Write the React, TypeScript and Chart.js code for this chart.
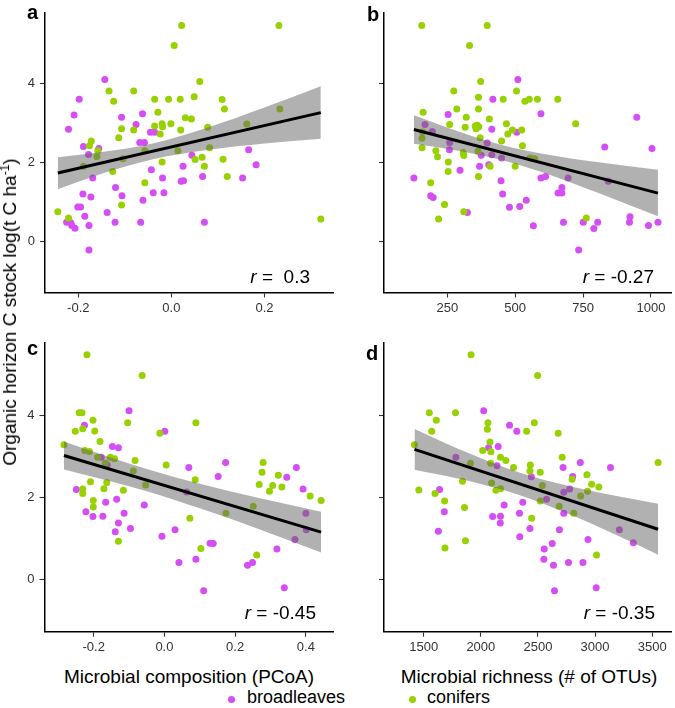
import React, { useEffect, useRef } from 'react';
import { Chart, registerables } from 'chart.js';
Chart.register(...registerables);

const FONT = "'Liberation Sans', Arial, Helvetica, sans-serif";
const PURPLE = '#D54EF3';
const GREEN = '#98D100';
const RIBBON = 'rgba(100,100,100,0.5)';

// ---------- Panel a: Microbial composition (PCoA), top row ----------
const aBroadX = [-0.143, -0.198, -0.209, -0.221, -0.107, -0.062, -0.076, -0.068, -0.058, -0.045, -0.036, -0.189, -0.178, -0.156, -0.169, -0.043, -0.019, 0.025, 0.021, 0.026, 0.044, 0.067, 0.166, 0.182, 0.153, -0.12, -0.106, -0.19, -0.173, -0.039, -0.016, -0.061, -0.201, -0.195, -0.186, -0.138, -0.225, -0.216, -0.214, -0.207, -0.177, -0.121, -0.066, 0.071, -0.177];
const aBroadY = [4.11, 3.61, 3.21, 2.85, 3.15, 3.24, 2.97, 2.51, 2.51, 2.77, 2.77, 2.41, 2.21, 2.36, 1.61, 1.82, 1.61, 1.91, 1.53, 1.54, 2.19, 1.65, 2.33, 1.95, 1.61, 1.37, 1.16, 1.21, 1.13, 1.24, 1.24, 1.05, 0.88, 0.88, 0.64, 0.74, 0.49, 0.48, 0.41, 0.34, 0.41, 0.49, 0.49, 0.49, -0.21];
const aConX = [0.022, 0.231, 0.006, 0.061, -0.134, -0.081, -0.124, -0.036, -0.006, 0.019, 0.049, 0.109, 0.114, 0.233, -0.029, 0.03, 0.043, -0.036, -0.02, -0.019, -0.001, -0.024, -0.107, -0.081, 0.02, 0.078, 0.162, -0.113, -0.172, -0.176, -0.158, 0.082, 0.014, -0.16, -0.104, -0.02, 0.051, 0.066, 0.111, 0.071, -0.126, -0.189, -0.057, 0.12, -0.107, -0.244, -0.221, 0.321, -0.057];
const aConY = [5.48, 5.48, 4.97, 4.06, 3.82, 3.82, 3.56, 3.61, 3.61, 3.61, 3.67, 3.6, 3.36, 3.36, 3.28, 3.14, 3.11, 2.93, 2.99, 2.91, 2.99, 2.73, 2.86, 2.83, 2.83, 2.9, 2.98, 2.63, 2.55, 2.43, 2.3, 2.38, 2.3, 2.16, 2.1, 2.02, 2.08, 2.14, 2.09, 1.91, 1.78, 1.91, 1.49, 1.65, 0.93, 0.76, 0.6, 0.57, 2.3];
const aTicks = [-0.2, 0, 0.2];
const aFitX = [-0.244, 0.321];
const aFitY = [1.74, 3.27];
const aBandX = [-0.244, -0.15, -0.04, 0.08, 0.2, 0.321];
const aBandHi = [2.14, 2.27, 2.49, 2.9, 3.4, 3.94];
const aBandLo = [1.33, 1.72, 2.09, 2.33, 2.49, 2.61];

// ---------- Panel b: Microbial richness, top row ----------
const bBroadX = [510, 418, 253, 595, 948, 414, 506, 168, 195, 259, 258, 397, 375, 414, 450, 369, 403, 297, 127, 448, 454, 595, 612, 658, 672, 672, 189, 198, 541, 479, 517, 324, 567, 695, 830, 1004, 843, 678, 751, 804, 790, 921, 923, 991, 1026, 734];
const bBroadY = [4.11, 3.61, 3.22, 3.24, 3.15, 2.85, 2.77, 2.97, 2.79, 2.51, 2.33, 2.5, 2.19, 2.2, 2.12, 1.91, 1.95, 1.81, 1.61, 1.54, 1.21, 1.61, 1.65, 1.23, 1.23, 1.37, 1.16, 1.12, 1.05, 0.87, 0.89, 0.74, 0.4, 1.61, 2.4, 2.36, 1.53, 0.49, 0.49, 0.49, 0.33, 0.49, 0.63, 0.41, 0.49, -0.21];
const bConX = [156, 397, 332, 373, 274, 365, 456, 536, 552, 582, 657, 505, 285, 365, 161, 320, 259, 316, 353, 356, 366, 360, 405, 468, 490, 524, 473, 450, 371, 527, 723, 157, 208, 214, 309, 311, 254, 253, 408, 500, 365, 189, 240, 311, 218, 762, 159, 157, 363, 572, 555];
const bConY = [5.48, 5.48, 4.97, 4.06, 3.82, 3.66, 3.61, 3.56, 3.61, 3.61, 3.61, 3.82, 3.36, 3.36, 3.28, 3.15, 2.97, 2.9, 2.93, 2.86, 2.91, 2.95, 3.11, 2.99, 2.83, 2.83, 2.73, 2.55, 2.63, 2.43, 2.99, 2.38, 2.3, 2.15, 2.26, 2.18, 2.02, 1.78, 1.91, 1.91, 1.65, 1.49, 0.94, 0.76, 0.57, 0.6, 2.78, 2.62, 2.29, 2.1, 2.12];
const bTicks = [250, 500, 750, 1000];
const bFitX = [127, 1026];
const bFitY = [2.84, 1.23];
const bBandX = [127, 300, 450, 600, 800, 1026];
const bBandHi = [3.2, 2.77, 2.45, 2.23, 2.02, 1.82];
const bBandLo = [2.48, 2.29, 2.07, 1.76, 1.25, 0.64];

// ---------- Panel c: Microbial composition (PCoA), bottom row ----------
const cBroadX = [-0.1, -0.226, 0.001, -0.147, -0.13, -0.179, -0.162, 0.069, 0.173, 0.373, 0.346, 0.152, 0.392, -0.249, -0.135, -0.166, -0.057, -0.222, -0.114, -0.202, -0.174, -0.13, -0.139, -0.096, 0.03, -0.007, 0.129, 0.138, 0.041, 0.089, 0.235, 0.249, 0.318, 0.369, 0.4, 0.401, 0.111, 0.339, 0.063];
const cBroadY = [4.11, 3.76, 3.61, 3.24, 3.21, 2.98, 2.79, 2.73, 2.85, 2.73, 2.49, 2.51, 2.2, 2.19, 1.95, 1.88, 1.81, 1.65, 1.61, 1.53, 1.54, 1.37, 1.16, 1.24, 1.21, 1.05, 0.88, 0.87, 0.41, 0.49, 0.34, 0.41, 0.74, 0.97, 1.61, 1.21, -0.28, -0.21, 2.13];
const cConX = [-0.219, -0.063, -0.241, -0.233, -0.202, -0.231, -0.252, -0.197, -0.104, 0.089, -0.013, -0.182, -0.284, -0.225, -0.212, -0.153, -0.141, -0.083, -0.189, 0.005, -0.167, -0.088, 0.087, -0.209, -0.163, -0.171, -0.231, -0.231, -0.116, -0.053, -0.201, -0.201, 0.072, 0.174, 0.251, 0.103, -0.13, 0.261, 0.279, 0.276, 0.268, 0.306, 0.322, 0.297, 0.332, 0.412, 0.443];
const cConY = [5.48, 4.97, 4.06, 4.06, 3.88, 3.67, 3.61, 3.62, 3.82, 3.82, 3.56, 3.36, 3.28, 3.14, 3.12, 2.98, 2.94, 2.9, 2.98, 2.79, 2.83, 2.64, 2.43, 2.38, 2.36, 2.21, 2.2, 2.09, 2.17, 2.3, 1.92, 1.76, 1.49, 1.61, 1.78, 0.75, 0.93, 0.59, 2.85, 2.61, 2.31, 2.29, 2.54, 2.15, 2.25, 2.03, 1.92];
const cTicks = [-0.2, 0, 0.2, 0.4];
const cFitX = [-0.284, 0.443];
const cFitY = [3.02, 1.15];
const cBandX = [-0.284, -0.15, -0.05, 0.1, 0.27, 0.443];
const cBandHi = [3.36, 2.965, 2.69, 2.33, 1.975, 1.65];
const cBandLo = [2.68, 2.385, 2.15, 1.73, 1.215, 0.65];

// ---------- Panel d: Microbial richness (# of OTUs), bottom row ----------
const dBroadX = [2025, 2251, 2315, 2068, 2152, 2141, 1781, 2720, 2871, 3135, 2442, 2804, 2778, 2726, 2575, 1639, 1680, 1628, 2103, 2172, 2170, 2204, 2338, 2367, 2341, 2430, 2726, 2688, 2555, 2625, 2552, 2636, 2767, 2894, 2938, 2645, 3010, 3213, 3335];
const dBroadY = [4.11, 3.76, 3.61, 3.21, 3.24, 2.77, 2.98, 2.73, 2.85, 2.73, 2.5, 2.51, 2.2, 2.12, 1.95, 2.19, 1.65, 1.17, 1.53, 1.54, 1.37, 1.81, 1.61, 1.88, 1.04, 1.24, 1.61, 1.21, 0.74, 0.87, 0.49, 0.34, 0.41, 0.41, 0.97, -0.28, -0.21, 1.21, 0.89];
const dConX = [1914, 2497, 1549, 1778, 1610, 1570, 2062, 2057, 2468, 2401, 2677, 1419, 2080, 2016, 2088, 2172, 2219, 2086, 2286, 2433, 2430, 2520, 2712, 3552, 2929, 2970, 3033, 2799, 2935, 2874, 1839, 1457, 1599, 1683, 1857, 2445, 1865, 1686, 3013, 2132, 2172, 2094, 2813, 2686, 2520, 1909, 2538];
const dConY = [5.48, 4.97, 4.06, 4.06, 3.88, 3.61, 3.82, 3.66, 3.82, 3.61, 3.56, 3.28, 3.35, 3.14, 3.11, 2.98, 2.9, 2.83, 2.73, 2.79, 2.64, 2.61, 2.98, 2.85, 2.55, 2.32, 2.25, 2.44, 2.15, 2.03, 2.39, 2.18, 2.09, 1.91, 1.75, 1.49, 0.94, 0.76, 0.59, 2.17, 2.21, 2.35, 1.61, 1.78, 1.91, 2.83, 2.29];
const dTicks = [1500, 2000, 2500, 3000, 3500];
const dFitX = [1419, 3552];
const dFitY = [3.17, 1.22];
const dBandX = [1419, 1800, 2330, 2800, 3200, 3552];
const dBandHi = [3.665, 3.185, 2.61, 2.255, 2.025, 1.84];
const dBandLo = [2.675, 2.46, 2.065, 1.56, 1.06, 0.6];

const yTicks = [0, 2, 4];
const rLabels = ['0.3', '-0.27', '-0.45', '-0.35'];
const panelLetters = ['a', 'b', 'c', 'd'];

type PanelCfg = {
  left: number; top: number; w: number; h: number;
  padTop: number; padRight: number; yW: number; xH: number;
  xMin: number; xMax: number; yMin: number; yMax: number;
  xTicks: number[]; decimals: number; yLabels: boolean;
  bx: number[]; by: number[]; cx: number[]; cy: number[];
  fx: number[]; fy: number[]; bandX: number[]; bandHi: number[]; bandLo: number[];
};

const panels: PanelCfg[] = [
  { left: 0, top: 0, w: 340, h: 330, padTop: 1, padRight: 7, yW: 45, xH: 37.5, xMin: -0.2715, xMax: 0.3472, yMin: -1.29, yMax: 5.8, xTicks: aTicks, decimals: 1, yLabels: true, bx: aBroadX, by: aBroadY, cx: aConX, cy: aConY, fx: aFitX, fy: aFitY, bandX: aBandX, bandHi: aBandHi, bandLo: aBandLo },
  { left: 340, top: 0, w: 335, h: 330, padTop: 1, padRight: 2, yW: 44, xH: 37.5, xMin: 17, xMax: 1074, yMin: -1.29, yMax: 5.8, xTicks: bTicks, decimals: 0, yLabels: false, bx: bBroadX, by: bBroadY, cx: bConX, cy: bConY, fx: bFitX, fy: bFitY, bandX: bBandX, bandHi: bBandHi, bandLo: bBandLo },
  { left: 0, top: 330, w: 340, h: 330, padTop: 11.7, padRight: 7, yW: 44.5, xH: 28.3, xMin: -0.339, xMax: 0.4766, yMin: -1.28, yMax: 5.77, xTicks: cTicks, decimals: 1, yLabels: true, bx: cBroadX, by: cBroadY, cx: cConX, cy: cConY, fx: cFitX, fy: cFitY, bandX: cBandX, bandHi: cBandHi, bandLo: cBandLo },
  { left: 340, top: 330, w: 335, h: 330, padTop: 11.7, padRight: 2, yW: 44, xH: 28.3, xMin: 1152, xMax: 3665, yMin: -1.28, yMax: 5.77, xTicks: dTicks, decimals: 0, yLabels: false, bx: dBroadX, by: dBroadY, cx: dConX, cy: dConY, fx: dFitX, fy: dFitY, bandX: dBandX, bandHi: dBandHi, bandLo: dBandLo },
];

const pts = (xs: number[], ys: number[]) => xs.map((x, i) => ({ x, y: ys[i] }));

function Panel({ cfg }: { cfg: PanelCfg }) {
  const ref = useRef<HTMLCanvasElement | null>(null);
  useEffect(() => {
    if (!ref.current) return;
    const chart = new Chart(ref.current, {
      type: 'scatter',
      data: {
        datasets: [
          { data: pts(cfg.fx, cfg.fy), showLine: true, borderColor: '#000', borderWidth: 3, pointRadius: 0, order: 1, fill: false } as any,
          { data: pts(cfg.bandX, cfg.bandHi), showLine: true, cubicInterpolationMode: 'monotone', borderWidth: 0, borderColor: 'rgba(0,0,0,0)', pointRadius: 0, backgroundColor: RIBBON, fill: '+1', order: 2 } as any,
          { data: pts(cfg.bandX, cfg.bandLo), showLine: true, cubicInterpolationMode: 'monotone', borderWidth: 0, borderColor: 'rgba(0,0,0,0)', pointRadius: 0, fill: false, order: 2 } as any,
          { data: pts(cfg.cx, cfg.cy), backgroundColor: GREEN, pointBackgroundColor: GREEN, pointBorderWidth: 0, pointRadius: 3.5, order: 3 } as any,
          { data: pts(cfg.bx, cfg.by), backgroundColor: PURPLE, pointBackgroundColor: PURPLE, pointBorderWidth: 0, pointRadius: 3.5, order: 4 } as any,
        ],
      },
      options: {
        animation: false,
        responsive: false,
        devicePixelRatio: 1,
        events: [],
        layout: { padding: { left: 0, top: cfg.padTop, right: cfg.padRight, bottom: 0 } },
        plugins: { legend: { display: false }, tooltip: { enabled: false } },
        scales: {
          x: {
            type: 'linear', min: cfg.xMin, max: cfg.xMax,
            afterBuildTicks: (s: any) => { s.ticks = cfg.xTicks.map((v) => ({ value: v })); },
            afterFit: (s: any) => { s.height = cfg.xH; },
            grid: { drawOnChartArea: false, drawTicks: true, tickLength: 5, tickColor: '#333', tickWidth: 1.1 },
            border: { display: true, color: '#000', width: 1.5 },
            ticks: { color: '#333', font: { family: FONT, size: 13 }, padding: 3, maxRotation: 0, autoSkip: false, callback: (v: any) => Number(v).toFixed(cfg.decimals) },
          },
          y: {
            type: 'linear', min: cfg.yMin, max: cfg.yMax,
            afterBuildTicks: (s: any) => { s.ticks = yTicks.map((v) => ({ value: v })); },
            afterFit: (s: any) => { s.width = cfg.yW; },
            grid: { drawOnChartArea: false, drawTicks: true, tickLength: 5, tickColor: '#333', tickWidth: 1.1 },
            border: { display: true, color: '#000', width: 1.5 },
            ticks: { color: '#333', font: { family: FONT, size: 13 }, padding: 5, callback: (v: any) => (cfg.yLabels ? String(v) : '') },
          },
        },
      } as any,
    });
    return () => chart.destroy();
  }, [cfg]);
  return (
    <canvas ref={ref} width={cfg.w} height={cfg.h}
      style={{ position: 'absolute', left: cfg.left, top: cfg.top, width: cfg.w, height: cfg.h }} />
  );
}

function TextAt({ x, y, size, align, bold, children }: { x: number; y: number; size: number; align: 'left' | 'center' | 'right'; bold?: boolean; children: React.ReactNode }) {
  const tx = align === 'center' ? 'translateX(-50%)' : align === 'right' ? 'translateX(-100%)' : 'none';
  return (
    <div style={{ position: 'absolute', left: x, top: y - 0.8465 * size, fontSize: size, lineHeight: `${size}px`, fontWeight: bold ? 700 : 400, whiteSpace: 'pre', transform: tx, color: '#000' }}>
      {children}
    </div>
  );
}

export default function App() {
  const letterPos = [[27, 18.5], [367, 21], [27, 355], [366, 360]];
  const rPos = [[310, 283], [654, 283], [316, 619], [655, 619]];
  return (
    <div style={{ position: 'absolute', left: 0, top: 0, width: 675, height: 708, background: '#fff', fontFamily: FONT, overflow: 'hidden' }}>
      {panels.map((p, i) => <Panel key={i} cfg={p} />)}
      {panelLetters.map((l, i) => (
        <TextAt key={l} x={letterPos[i][0]} y={letterPos[i][1]} size={20} align="left" bold>{l}</TextAt>
      ))}
      {rLabels.map((r, i) => (
        <TextAt key={'r' + i} x={rPos[i][0]} y={rPos[i][1]} size={19} align="right">
          <i>r</i>{r.startsWith('-') ? ' = ' + r : ' =  ' + r}
        </TextAt>
      ))}
      <div style={{ position: 'absolute', left: 10.5, top: 312, transform: 'translate(-50%, -50%) rotate(-90deg)', fontSize: 19, whiteSpace: 'nowrap', color: '#000', lineHeight: '22px' }}>
        Organic horizon C stock log(t C ha<span style={{ fontSize: 12, position: 'relative', top: -7 }}>-1</span>)
      </div>
      <TextAt x={189} y={683} size={19} align="center">Microbial composition (PCoA)</TextAt>
      <TextAt x={529} y={683} size={19} align="center">Microbial richness (# of OTUs)</TextAt>
      <div style={{ position: 'absolute', left: 231 - 3.5, top: 699 - 3.5, width: 7, height: 7, borderRadius: '50%', background: PURPLE }} />
      <TextAt x={247} y={703} size={18} align="left">broadleaves</TextAt>
      <div style={{ position: 'absolute', left: 412 - 3.5, top: 699 - 3.5, width: 7, height: 7, borderRadius: '50%', background: GREEN }} />
      <TextAt x={427} y={703} size={18} align="left">conifers</TextAt>
    </div>
  );
}
